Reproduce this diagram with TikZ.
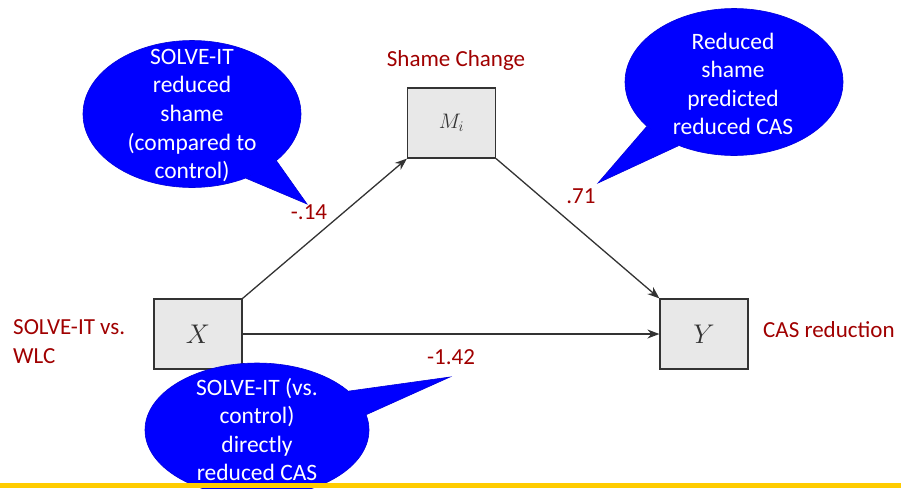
\RequirePackage{fix-cm}
\documentclass[tikz,border=0pt]{standalone}
\usepackage{fontspec}
\setmainfont{Carlito}
\usepackage{tikz}
\usetikzlibrary{arrows.meta}
\usetikzlibrary{shapes.geometric}

\definecolor{lblred}{HTML}{A00000}
\definecolor{boxgray}{HTML}{E8E8E8}
\definecolor{linegray}{HTML}{333333}
\definecolor{barfill}{HTML}{FFCC00}

\begin{document}
\begin{tikzpicture} [
    x=1pt, y=-1pt,
    var/.style = {rectangle, draw=linegray, line width=1.2pt, fill=boxgray,
        minimum width=88pt, minimum height=70pt, inner sep=0pt,
        text=linegray, font=\fontsize{27}{30}\selectfont},
    path/.style = {draw=linegray, line width=1.3pt, -{Stealth[length=12pt,width=9pt]}},
    lbl/.style = {text=lblred, inner sep=0pt, font=\fontsize{23}{28.5}\selectfont},
    bubble/.style = {ellipse, fill=blue, draw=blue!85!black, line width=0.6pt,
        minimum width=218pt, minimum height=147pt, inner sep=0pt},
    tail/.style = {fill=blue, draw=blue!85!black, line width=0.6pt, line join=miter},
    note/.style = {text=white, align=center, inner sep=0pt,
        font=\fontsize{23.5}{28.6}\selectfont}
]
    \clip (0,0) rectangle (901,488);

    % the three variables
    \node [var] (X) at (198,334) {$X$};
    \node [var, font=\fontsize{21}{24}\selectfont] (M) at (451.5,123) {$M_i$};
    \node [var] (Y) at (704,334) {$Y$};

    \draw [path] (X.north east) -- (M.south west);
    \draw [path] (M.south east) -- (Y.north west);
    \draw [path] (X.east) -- (Y.west);

    % names and coefficients
    \node [lbl] (mname) at (456,60) {Shame Change};
    \node [lbl, anchor=west, align=left] (xname) at (13,341.5) {SOLVE-IT vs.\\WLC};
    \node [lbl, anchor=west] (yname) at (763,330) {CAS reduction};
    \node [lbl] (a) at (309,212) {-.14};
    \node [lbl] (b) at (581,196) {.71};
    \node [lbl] (c) at (451,357) {-1.42};

    % speech bubbles
    \coordinate (tipA) at (307,204);
    \coordinate (tipB) at (598,183);
    \coordinate (tipC) at (450,377);

    \node [bubble] (bubA) at (192,114) {};
    \filldraw [tail] (bubA.-29) -- (tipA) -- (bubA.-50);
    \fill [blue] (bubA.-25) -- (bubA.-54) -- (bubA.center) -- cycle;
    \node [note] (noteA) at (192,115.5) {SOLVE-IT\\reduced\\shame\\(compared to\\control)};

    \node [bubble] (bubB) at (734,82) {};
    \filldraw [tail] (bubB.-153) -- (tipB) -- (bubB.-131);
    \fill [blue] (bubB.-157) -- (bubB.-127) -- (bubB.center) -- cycle;
    \node [note] (noteB) at (733,84) {Reduced\\shame\\predicted\\reduced CAS};

    \node [bubble, minimum width=224pt, minimum height=134pt] (bubC) at (257,430) {};
    \filldraw [tail] (bubC.23) -- (tipC) -- (bubC.8);
    \fill [blue] (bubC.27) -- (bubC.4) -- (bubC.center) -- cycle;
    \node [note] (noteC) at (257,429.5) {SOLVE-IT (vs.\\control)\\directly\\reduced CAS};

    \fill [barfill] (0,483) rectangle (901,488);
\end{tikzpicture}
\end{document}
